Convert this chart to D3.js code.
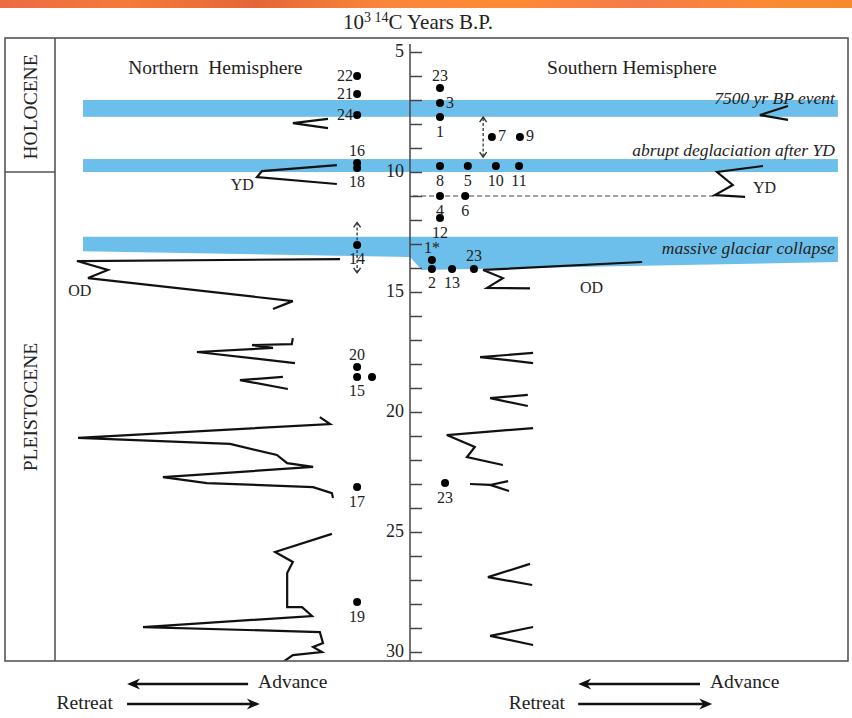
<!DOCTYPE html>
<html>
<head>
<meta charset="utf-8">
<script src="https://cdn.jsdelivr.net/npm/d3@7"></script>
<style>
body { margin: 0; background: #fff; }
svg { display: block; font-family: "Liberation Serif", "Times New Roman", serif; }
</style>
</head>
<body>
<div id="chart"></div>
<script>
// age axis, 10^3 14C years BP
var tickLabels = [5, 10, 15, 20, 25, 30]
var minorTicks = d3.range(5, 31)

// glacier front curves: [extent (0-100 across panel), age kyr]
var northLines = [
  [[76.9, 7.79], [67.0, 7.96], [76.9, 8.17]],
  [[79.4, 9.71], [58.3, 9.96], [56.9, 10.21], [79.4, 10.5]],
  [[80.3, 13.63], [6.2, 13.71], [14.9, 14.08], [9.3, 14.42], [67.0, 15.38], [61.4, 15.71]],
  [[67.0, 16.92], [66.7, 17.17], [55.5, 17.21], [61.4, 17.33], [40.0, 17.5], [67.6, 17.96]],
  [[64.2, 18.54], [52.1, 18.67], [65.6, 19.04]],
  [[74.6, 20.21], [77.5, 20.5], [6.5, 21.08], [49.3, 21.33], [62.5, 21.79], [65.4, 22.13],
   [72.7, 22.29], [30.4, 22.71], [42.8, 22.96], [72.7, 23.13], [78.0, 23.38], [78.3, 23.58]],
  [[78.0, 25.08], [62.0, 25.83], [67.0, 26.25], [65.4, 26.71], [65.4, 28.13], [69.6, 28.13],
   [72.4, 28.5], [24.8, 28.96], [74.6, 29.17], [75.5, 29.63], [72.7, 29.79], [75.2, 30.0],
   [67.0, 30.13], [64.2, 30.42]]
]
var southLines = [
  [[86.3, 7.25], [79.9, 7.63], [86.3, 7.83]],
  [[80.6, 9.75], [70.1, 10.0], [73.7, 10.54], [69.6, 10.96], [76.5, 11.04]],
  [[53.0, 13.75], [16.7, 14.08], [21.2, 14.42], [17.6, 14.83], [27.4, 14.85]],
  [[28.1, 17.54], [16.0, 17.71], [28.1, 17.96]],
  [[26.9, 19.29], [18.3, 19.42], [26.9, 19.75]],
  [[28.1, 20.67], [8.4, 20.96], [14.8, 21.46], [13.0, 21.88], [21.2, 22.21]],
  [[13.7, 23.0], [18.3, 23.04], [22.6, 23.29]],
  [[18.3, 23.04], [22.4, 22.88]],
  [[27.4, 26.33], [17.8, 26.88], [27.9, 27.21]],
  [[28.1, 28.96], [18.3, 29.33], [28.1, 29.71]]
]

// dated sites
var northSites = [
  { id: "22", u: 85.1, age: 6.0, pos: "left" },
  { id: "21", u: 85.1, age: 6.75, pos: "left" },
  { id: "24", u: 85.1, age: 7.63, pos: "left" },
  { id: "16", u: 85.1, age: 9.63, pos: "above" },
  { id: "18", u: 85.1, age: 9.83, pos: "below" },
  { id: "14", u: 85.1, age: 13.04, pos: "below" },
  { id: "20", u: 85.1, age: 18.13, pos: "above" },
  { id: "15", u: 85.1, age: 18.54, pos: "below" },
  { id: "", u: 89.3, age: 18.54, pos: "none" },
  { id: "17", u: 85.1, age: 23.13, pos: "below" },
  { id: "19", u: 85.1, age: 27.92, pos: "below" }
]
var southSites = [
  { id: "23", u: 6.85, age: 6.5, pos: "above" },
  { id: "3", u: 6.85, age: 7.13, pos: "right" },
  { id: "1", u: 6.85, age: 7.71, pos: "below" },
  { id: "7", u: 18.7, age: 8.54, pos: "right" },
  { id: "9", u: 25.1, age: 8.54, pos: "right" },
  { id: "8", u: 6.85, age: 9.75, pos: "below" },
  { id: "5", u: 13.2, age: 9.75, pos: "below" },
  { id: "10", u: 19.6, age: 9.75, pos: "below" },
  { id: "11", u: 24.9, age: 9.75, pos: "below" },
  { id: "4", u: 6.85, age: 11.0, pos: "below" },
  { id: "6", u: 12.6, age: 11.0, pos: "below" },
  { id: "12", u: 6.85, age: 11.92, pos: "below" },
  { id: "1*", u: 5.0, age: 13.67, pos: "above" },
  { id: "2", u: 5.0, age: 14.04, pos: "below" },
  { id: "13", u: 9.6, age: 14.04, pos: "below" },
  { id: "23", u: 14.6, age: 14.04, pos: "above" },
  { id: "23", u: 8.0, age: 22.96, pos: "below" }
]

// uncertainty arrows: panel, extent, from age, to age
var errArrows = [
  ["N", 85.1, 12.85, 12.1], ["N", 85.1, 13.25, 14.2],
  ["S", 16.7, 8.5, 7.71], ["S", 16.7, 8.6, 9.38]
]

// event bands (ages)
var bandAges = [[7.0, 7.7], [9.46, 10.0]]
var bandStart = 7.9, bandEnd = 97.7
var collapseTop = 12.7
var collapseBottom = [["S", 97.7, 13.75], ["S", 2.7, 14.08], ["N", 100, 13.54], ["N", 7.9, 13.3]]
var bandLabels = [
  { text: "7500 yr BP event", age: 6.9 },
  { text: "abrupt deglaciation after YD", age: 9.1 },
  { text: "massive glaciar collapse", age: 13.17 }
]
var eventLabels = [
  { panel: "N", text: "YD", u: 56.0, age: 10.5, anchor: "end" },
  { panel: "N", text: "OD", u: 3.7, age: 14.93, anchor: "start" },
  { panel: "S", text: "YD", u: 78.3, age: 10.63, anchor: "start" },
  { panel: "S", text: "OD", u: 38.8, age: 14.8, anchor: "start" }
]
var dashedAge = 11.0, dashedFrom = 0.7, dashedTo = 69.9

var W = 852, H = 718
var frame = { left: 5, right: 848, top: 38, bottom: 661, col: 55 }
var axisX = 410

var svg = d3.select("#chart").append("svg")
  .attr("width", W).attr("height", H)

var y = d3.scaleLinear().domain([5, 30]).range([52, 652])
var xN = d3.scaleLinear().domain([0, 100]).range([frame.col, axisX])
var xS = d3.scaleLinear().domain([0, 100]).range([axisX, frame.right])
var xP = p => p == "N" ? xN : xS

// orange strip on top
var grad = svg.append("defs").append("linearGradient").attr("id", "strip")
var stops = [[0, "#ec6a45"], [0.15, "#f47b3a"], [0.3, "#e46638"], [0.45, "#f9873a"],
             [0.6, "#ff8a34"], [0.75, "#f37c4a"], [0.9, "#fb8a32"], [1, "#f58b2c"]]
stops.forEach(s => grad.append("stop").attr("offset", s[0]).attr("stop-color", s[1]))
svg.append("rect").attr("width", W).attr("height", 8).attr("fill", "url(#strip)")

svg.select("defs").append("clipPath").attr("id", "clip")
  .append("rect").attr("x", frame.left).attr("y", frame.top)
  .attr("width", frame.right - frame.left).attr("height", frame.bottom - frame.top)

// title
var title = svg.append("text").attr("x", 418).attr("y", 29)
  .attr("text-anchor", "middle").attr("font-size", 21).attr("fill", "#222")
title.append("tspan").text("10")
title.append("tspan").attr("dy", -7).attr("font-size", 14).attr("xml:space", "preserve").text("3 14")
title.append("tspan").attr("dy", 7).text("C Years B.P.")

var plot = svg.append("g").attr("clip-path", "url(#clip)")

// bands
var bandColor = "#6cbfea"
bandAges.forEach(b => {
  plot.append("rect")
    .attr("x", xN(bandStart)).attr("width", xS(bandEnd) - xN(bandStart))
    .attr("y", y(b[0])).attr("height", y(b[1]) - y(b[0]))
    .attr("fill", bandColor)
})
var collapsePts = [[xN(bandStart), y(collapseTop)], [xS(bandEnd), y(collapseTop)]]
  .concat(collapseBottom.map(d => [xP(d[0])(d[1]), y(d[2])]))
plot.append("polygon").attr("points", collapsePts.map(p => p.join(",")).join(" "))
  .attr("fill", bandColor)

// band labels
bandLabels.forEach(d => {
  plot.append("text").attr("x", xS(97.0)).attr("y", y(d.age))
    .attr("dominant-baseline", "central").attr("text-anchor", "end")
    .attr("font-size", 17.5).attr("font-style", "italic").attr("fill", "#222")
    .text(d.text)
})

// dashed 11 kyr line
plot.append("line").attr("x1", xS(dashedFrom)).attr("x2", xS(dashedTo))
  .attr("y1", y(dashedAge)).attr("y2", y(dashedAge))
  .attr("stroke", "#444").attr("stroke-width", 1.2).attr("stroke-dasharray", "5,3")

// glacier curves
var line = x => d3.line().x(d => x(d[0])).y(d => y(d[1]))
plot.selectAll(".north").data(northLines).enter().append("path")
  .attr("d", line(xN)).attr("fill", "none").attr("stroke", "#111").attr("stroke-width", 2.2)
plot.selectAll(".south").data(southLines).enter().append("path")
  .attr("d", line(xS)).attr("fill", "none").attr("stroke", "#111").attr("stroke-width", 2.2)

// event labels
eventLabels.forEach(d => {
  plot.append("text").attr("x", xP(d.panel)(d.u)).attr("y", y(d.age))
    .attr("dominant-baseline", "central").attr("text-anchor", d.anchor)
    .attr("font-size", 16).attr("fill", "#222").text(d.text)
})

// uncertainty arrows
errArrows.forEach(a => {
  var x = xP(a[0])(a[1]), y0 = y(a[2]), y1 = y(a[3]), s = y1 > y0 ? 1 : -1
  plot.append("line").attr("x1", x).attr("x2", x).attr("y1", y0).attr("y2", y1)
    .attr("stroke", "#333").attr("stroke-width", 1.3).attr("stroke-dasharray", "3,2")
  plot.append("path").attr("d", `M${x - 3.5},${y1 - s * 5}L${x},${y1}L${x + 3.5},${y1 - s * 5}`)
    .attr("fill", "none").attr("stroke", "#333").attr("stroke-width", 1.4)
})

// sites
function drawSites(data, x) {
  plot.selectAll(null).data(data).enter().append("circle")
    .attr("cx", d => x(d.u)).attr("cy", d => y(d.age)).attr("r", 4).attr("fill", "#000")
  plot.selectAll(null).data(data.filter(d => d.pos != "none")).enter().append("text")
    .attr("x", d => x(d.u) + (d.pos == "left" ? -4 : d.pos == "right" ? 6 : 0))
    .attr("y", d => y(d.age) + (d.pos == "above" ? -13 : d.pos == "below" ? 14 : -1))
    .attr("text-anchor", d => d.pos == "left" ? "end" : d.pos == "right" ? "start" : "middle")
    .attr("dominant-baseline", "central")
    .attr("font-size", 16).attr("fill", "#222")
    .text(d => d.id)
}
drawSites(northSites, xN)
drawSites(southSites, xS)

// age axis
var ax = svg.append("g").attr("transform", "translate(" + axisX + ",0)")
ax.call(d3.axisRight(y).tickValues(minorTicks).tickSize(12).tickSizeOuter(0).tickFormat(""))
ax.select(".domain").remove()
ax.selectAll("line").attr("stroke", "#444").attr("stroke-width", 1.5)
ax.append("line").attr("y1", 44).attr("y2", frame.bottom).attr("stroke", "#444").attr("stroke-width", 1.5)
var axl = svg.append("g").attr("transform", "translate(" + axisX + ",0)")
  .call(d3.axisLeft(y).tickValues(tickLabels).tickSize(0).tickPadding(6).tickFormat(d3.format("d")))
axl.select(".domain").remove()
axl.selectAll("text").attr("font-size", 18).attr("fill", "#222")
  .attr("font-family", "Liberation Serif, serif").attr("dy", "0.25em")

// frame
svg.append("rect").attr("x", frame.left).attr("y", frame.top)
  .attr("width", frame.right - frame.left).attr("height", frame.bottom - frame.top)
  .attr("fill", "none").attr("stroke", "#555").attr("stroke-width", 1.6)
svg.append("line").attr("x1", frame.col).attr("x2", frame.col)
  .attr("y1", frame.top).attr("y2", frame.bottom).attr("stroke", "#555").attr("stroke-width", 1.6)
svg.append("line").attr("x1", frame.left).attr("x2", frame.col)
  .attr("y1", y(10)).attr("y2", y(10)).attr("stroke", "#555").attr("stroke-width", 1.6)

// epoch labels
var epochs = [["HOLOCENE", 107], ["PLEISTOCENE", 407]]
epochs.forEach(e => {
  svg.append("text").attr("transform", "translate(30," + e[1] + ") rotate(-90)")
    .attr("text-anchor", "middle").attr("dominant-baseline", "central")
    .attr("font-size", 19.5).attr("fill", "#222").text(e[0])
})

// hemisphere titles
svg.append("text").attr("x", xN(20.6)).attr("y", 67).attr("dominant-baseline", "central")
  .attr("font-size", 19.5).attr("fill", "#222").attr("xml:space", "preserve").text("Northern  Hemisphere")
svg.append("text").attr("x", xS(31.3)).attr("y", 67).attr("dominant-baseline", "central")
  .attr("font-size", 19.5).attr("fill", "#222").text("Southern Hemisphere")

// advance / retreat keys
var keys = [
  { x: xN, adv: [54.4, 20.3], ret: [20.3, 57.7], advText: 57.2, retText: 16.3 },
  { x: xS, adv: [66.2, 38.4], ret: [38.4, 69.0], advText: 68.5, retText: 35.4 }
]
function arrow(x1, x2, yy) {
  var s = x2 > x1 ? 1 : -1
  svg.append("line").attr("x1", x1).attr("x2", x2 - s * 8).attr("y1", yy).attr("y2", yy)
    .attr("stroke", "#111").attr("stroke-width", 2.4)
  svg.append("path").attr("d", `M${x2},${yy}L${x2 - s * 13},${yy - 5.5}L${x2 - s * 9},${yy}L${x2 - s * 13},${yy + 5.5}Z`)
    .attr("fill", "#111")
}
keys.forEach(k => {
  arrow(k.x(k.adv[0]), k.x(k.adv[1]), 684)
  arrow(k.x(k.ret[0]), k.x(k.ret[1]), 704)
  svg.append("text").attr("x", k.x(k.advText)).attr("y", 681).attr("dominant-baseline", "central")
    .attr("font-size", 19.5).attr("fill", "#222").text("Advance")
  svg.append("text").attr("x", k.x(k.retText)).attr("y", 702).attr("dominant-baseline", "central")
    .attr("text-anchor", "end").attr("font-size", 19.5).attr("fill", "#222").text("Retreat")
})
</script>
</body>
</html>
